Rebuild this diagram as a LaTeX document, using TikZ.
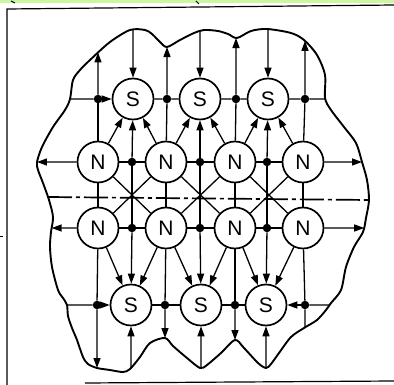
\documentclass[tikz,border=0pt]{standalone}
\usepackage{fontspec}
\newfontfamily\labfont{Liberation Sans}
\usetikzlibrary{arrows.meta,intersections}
\definecolor{topgreen}{RGB}{206,245,162}
\begin{document}
\begin{tikzpicture}[x=1pt,y=-1pt,
  pole/.style={circle,draw,line width=1.7pt,minimum size=41pt,inner sep=0pt,
    font=\labfont\fontsize{21}{21}\selectfont},
  jn/.style={circle,fill,minimum size=8.5pt,inner sep=0pt},
  ln/.style={line width=1.3pt},
  arr/.style={ln,-{Triangle[length=10pt,width=7pt]}},
  bound/.style={line width=1.9pt},
  framel/.style={line width=1.2pt}]
\useasboundingbox (0,0) rectangle (394,385);
\fill[topgreen] (0,0) rectangle (394,3);
% frame
\draw[framel] (7,385) -- (7,9) -- (394,5);
\draw[framel] (85,383) -- (394,381);
\draw[line width=1pt] (11,1) -- (15,3);
\draw[line width=1pt] (196,1) -- (199,4);
\draw[line width=1pt] (0,237) -- (3,237);
% boundary
\draw[bound,name path=bd] plot[smooth cycle,tension=0.5] coordinates {
 (90,60) (110,42) (130,30) (145,30) (152,34) (160,42) (167,47) (180,40) (194,33)
 (204,30) (218,31) (228,34) (237,38) (251,31) (267,29) (291,33) (304,40) (317,55)
 (325,75) (325,98) (331,110) (344,127) (356,143) (362,162) (367,180) (369,200)
 (366,218) (363,232) (354,247) (346,267) (341,290) (331,303) (326,310) (317,320)
 (304,328) (291,337) (279,353) (271,364) (266,368) (258,363) (244,348) (235,340)
 (221,353) (207,365) (200,368) (187,358) (173,346) (165,338) (150,343) (140,357)
 (130,369) (123,372) (110,370) (97,368) (88,364) (83,357) (77,340) (72,328)
 (68,316) (67,305) (63,298) (58,290) (52,267) (50,247) (51,232) (53,217) (49,200)
 (43,183) (38,170) (37,162) (42,147) (53,127) (65,110) (70,99) (73,80) (80,70)};
% boundary end points
\foreach \n/\x in {1/98,2/167,3/236,4/305,5/133,6/200,7/268}{
  \path[name path=tmp] (\x,0) -- (\x,125);
  \path[name intersections={of=bd and tmp,by={top\n}}];}
\foreach \n/\x in {1/97,2/165,3/235,4/305,5/131,6/201,7/266}{
  \path[name path=tmp] (\x,280) -- (\x,385);
  \path[name intersections={of=bd and tmp,by={bot\n}}];}
\foreach \n/\y in {1/99,2/162,3/228,4/305}{
  \path[name path=tmp] (0,\y) -- (100,\y);
  \path[name intersections={of=bd and tmp,by={lft\n}}];
  \path[name path=tmp] (300,\y) -- (394,\y);
  \path[name intersections={of=bd and tmp,by={rgt\n}}];}
% poles
\node[pole] (sa1) at (133,99) {S};
\node[pole] (sa2) at (200,99) {S};
\node[pole] (sa3) at (268,99) {S};
\node[pole] (sb1) at (131,305) {S};
\node[pole] (sb2) at (201,305) {S};
\node[pole] (sb3) at (266,305) {S};
\foreach \i/\x in {1/98,2/166,3/235,4/303}{
  \node[pole] (n1\i) at (\x,162) {N};
  \node[pole] (n2\i) at (\x,228) {N};}
% junctions
\foreach \i/\x in {1/98,2/167,3/236,4/305}{\node[jn] (ta\i) at (\x,99) {};}
\foreach \i/\x in {1/97,2/165,3/235,4/305}{\node[jn] (tb\i) at (\x,305) {};}
\foreach \i/\x in {1/132,2/200,3/267}{
  \node[jn] (m1\i) at (\x,162) {};
  \node[jn] (m2\i) at (\x,228) {};}
% dash-dot axis
\coordinate (axl) at (48,197);
\coordinate (axr) at (369,200);
\draw[line width=1.7pt,dash pattern=on 24pt off 4pt on 4pt off 4pt] (axl) -- (axr);
% rows
\draw[ln] (lft1) -- (ta1);
\draw[arr] (ta1) -- (sa1);
\draw[ln] (sa1) -- (ta2) -- (sa2) -- (ta3) -- (sa3) -- (ta4) -- (rgt1);
\draw[arr] (n11) -- (lft2);
\draw[ln] (n11) -- (m11) -- (n12) -- (m12) -- (n13) -- (m13) -- (n14);
\draw[arr] (n14) -- (rgt2);
\draw[arr] (n21) -- (lft3);
\draw[ln] (n21) -- (m21) -- (n22) -- (m22) -- (n23) -- (m23) -- (n24);
\draw[arr] (n24) -- (rgt3);
\draw[ln] (lft4) -- (tb1);
\draw[arr] (tb1) -- (sb1);
\draw[ln] (sb1) -- (tb2) -- (sb2) -- (tb3) -- (sb3);
\draw[arr] (tb4) -- (sb3);
\draw[ln] (tb4) -- (rgt4);
% N columns
\foreach \i in {1,2,3,4}{
  \draw[arr] (ta\i) -- (top\i);
  \draw[ln] (ta\i) -- (n1\i);
  \draw[ln] (n1\i) -- (n2\i);
  \draw[ln] (n2\i) -- (tb\i);}
\foreach \i in {1,2,3}{\draw[arr] (tb\i) -- (bot\i);}
\draw[ln] (tb4) -- (bot4);
% S columns and diagonals
\foreach \j [evaluate=\j as \k using int(\j+4), evaluate=\j as \r using int(\j+1)] in {1,2,3}{
  \draw[arr] (top\k) -- (sa\j);
  \draw[arr] (m1\j) -- (sa\j);
  \draw[ln] (m1\j) -- (m2\j);
  \draw[arr] (m2\j) -- (sb\j);
  \draw[arr] (bot\k) -- (sb\j);
  \draw[arr] (n1\j) -- (sa\j);
  \draw[arr] (n1\r) -- (sa\j);
  \draw[ln] (n1\j) -- (n2\r);
  \draw[ln] (n1\r) -- (n2\j);
  \draw[arr] (n2\j) -- (sb\j);
  \draw[arr] (n2\r) -- (sb\j);}
\end{tikzpicture}
\end{document}
